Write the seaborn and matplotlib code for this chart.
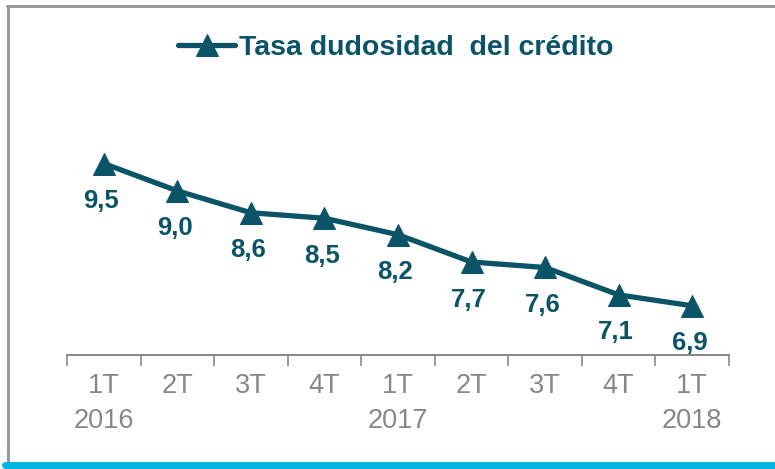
import pandas as pd
import matplotlib.pyplot as plt
import seaborn as sns
from matplotlib.lines import Line2D

# Datos
trimestres = ['1T', '2T', '3T', '4T', '1T', '2T', '3T', '4T', '1T']
anios = ['2016', '', '', '', '2017', '', '', '', '2018']
tasa = [9.5, 9.0, 8.6, 8.5, 8.2, 7.7, 7.6, 7.1, 6.9]
serie = 'Tasa dudosidad  del crédito'

color = '#0B5468'
gris = '#878787'

data = pd.DataFrame({'pos': range(len(tasa)), 'tasa': tasa})

sns.set_style('white')
plt.rcParams['font.family'] = ['Liberation Sans', 'DejaVu Sans']

fig = plt.figure(figsize=(7.75, 4.69), dpi=100)
ax = fig.add_axes([0.0865, 0.243, 0.854, 0.700])

sns.lineplot(data=data, x='pos', y='tasa', color=color, linewidth=3.8,
             marker='^', markersize=16, markeredgecolor=color, label=serie, ax=ax)

# Etiquetas de datos
for i, v in enumerate(tasa):
    ax.annotate(f'{v:.1f}'.replace('.', ','), (i, v), textcoords='offset points',
                xytext=(-2, -27), ha='center', va='center',
                fontsize=18.5, fontweight='bold', color=color)

ax.set_xlim(-0.5, len(tasa) - 0.5)
ax.set_ylim(6, 12)
ax.set_xlabel('')
ax.set_ylabel('')
ax.set_yticks([])

# Marcas en los límites, etiquetas en el centro
ax.set_xticks([i - 0.5 for i in range(len(tasa) + 1)])
ax.set_xticklabels([])
ax.set_xticks(range(len(tasa)), minor=True)
ax.set_xticklabels([f'{t}\n{a}' for t, a in zip(trimestres, anios)], minor=True,
                   fontsize=19.5, color=gris, linespacing=1.45)
ax.tick_params(axis='x', which='major', direction='out', length=8, width=1.2,
               color=gris, bottom=True)
ax.tick_params(axis='x', which='minor', length=0, pad=13)

for s in ['top', 'right', 'left']:
    ax.spines[s].set_visible(False)
ax.spines['bottom'].set_color(gris)
ax.spines['bottom'].set_linewidth(1.4)

ax.legend(loc='center', bbox_to_anchor=(0.511, 0.898), bbox_transform=fig.transFigure,
          frameon=False, handlelength=2.0, handletextpad=0.15,
          prop={'weight': 'bold', 'size': 20.5}, labelcolor=color)

# Marco y barra inferior
fig.add_artist(Line2D([0.009, 1.0], [0.988, 0.988], color='#999999', lw=2.2,
                      transform=fig.transFigure))
fig.add_artist(Line2D([0.010, 0.010], [0.988, 0.012], color='#999999', lw=2.2,
                      transform=fig.transFigure))
fig.add_artist(Line2D([0.007, 1.0], [0.0075, 0.0075], color='#00B5E2', lw=5,
                      transform=fig.transFigure))

plt.savefig('out.png', dpi=100)
